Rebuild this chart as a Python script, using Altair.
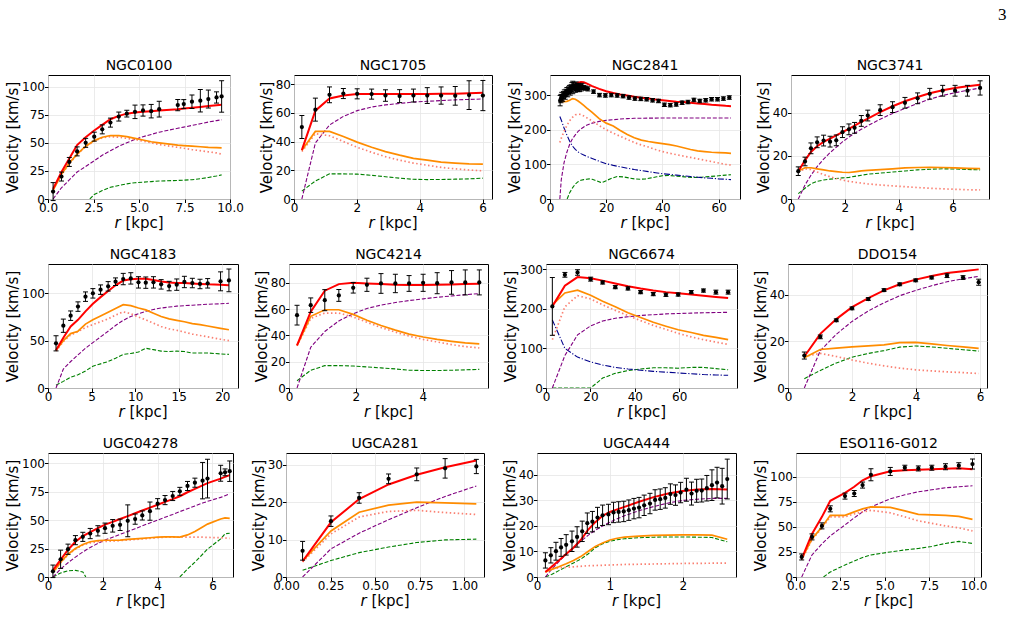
import altair as alt
import pandas as pd

# ---------------- rotation-curve data (r in kpc, velocities in km/s) ----------------
# Observed points: radius, velocity, 1-sigma error.  Model curves: total, baryonic,
# stellar disk, dark matter halo, gas and (where present) bulge.

NGC0100_R = [0.28, 0.74, 1.17, 1.60, 2.07, 2.54, 2.98, 3.43, 3.89, 4.33, 4.78, 5.22, 5.67, 6.11, 7.13, 7.46, 7.91, 8.37, 8.81, 9.26, 9.54]
NGC0100_V = [6.6, 20, 33, 42.4, 50, 55.5, 62, 68, 73.4, 76, 77.6, 78.8, 78.2, 80, 83.6, 84.5, 86.6, 87.5, 89, 90.4, 91.3]
NGC0100_E = [8, 4, 4, 4, 4, 4, 4, 4, 4, 3, 6, 5, 6, 7, 5, 4, 6, 10, 8, 5, 14]
NGC0100_TOT = [9, 24, 36, 48, 55, 61, 66, 71, 74, 76, 77, 77.6, 78.2, 78.8, 80, 80.6, 81.3, 82, 82.7, 83.5, 84]
NGC0100_BAR = [8, 22, 32, 40, 47, 52, 55, 56.5, 56.5, 55.5, 54, 52.5, 51, 50, 48, 47.6, 47, 46.5, 46, 45.7, 45.5]
NGC0100_DISK = [8, 21.5, 31.5, 39.5, 46.5, 51.5, 54.5, 55.5, 55, 54, 53, 51.5, 50, 48.5, 46, 45.2, 44, 43, 42, 41, 40]
NGC0100_DM = [0, 10, 17, 24, 29, 34, 39, 43, 47, 50, 53, 55.5, 57.5, 59.5, 63, 64, 65.5, 67, 68.5, 69.8, 70.5]
NGC0100_GAS_R = [2.30, 2.54, 2.98, 3.43, 3.89, 4.33, 4.78, 5.22, 5.67, 6.11, 7.13, 7.46, 7.91, 8.37, 8.81, 9.26, 9.54]
NGC0100_GAS = [0, 4, 7.5, 10.4, 12, 13.5, 14.5, 15, 15.5, 16, 16.5, 16.8, 17.2, 18, 19.2, 20.5, 21.5]

NGC1705_R = [0.25, 0.68, 1.13, 1.57, 2.01, 2.47, 2.91, 3.36, 3.80, 4.24, 4.68, 5.13, 5.57, 6.01]
NGC1705_V = [50.1, 62.2, 72.5, 73.4, 73.2, 73, 72, 71.6, 72, 72, 72, 71.8, 72.3, 72]
NGC1705_E = [8, 8, 5.5, 3.5, 3.5, 3.5, 4, 4.5, 4.5, 5.5, 6, 6.5, 10, 10.5]
NGC1705_TOT = [34, 61.5, 70, 72, 73, 73, 73, 73, 73, 73.1, 73.2, 73.3, 73.6, 74]
NGC1705_BAR = [34, 47, 47, 43.5, 39.6, 36, 33, 30.5, 28.3, 27, 25.7, 25, 24.5, 24.3]
NGC1705_DISK = [33, 45.5, 44, 40, 36, 32.5, 29.5, 27, 25, 23.5, 22, 21, 20.2, 19.6]
NGC1705_DM = [0, 39, 51.5, 57.5, 61.5, 64, 65.5, 66.5, 67.5, 68, 68.5, 69, 69.3, 69.6]
NGC1705_GAS = [5.5, 12.5, 17.5, 17.5, 17.3, 16.5, 15.5, 14.5, 13.7, 13.5, 13.6, 13.8, 14, 14.5]

NGC2841_R = [3.6, 3.9, 4.2, 4.5, 4.8, 5.1, 5.4, 5.7, 6.0, 6.3, 6.6, 6.9, 7.2, 7.5, 7.8, 8.1, 8.4, 8.7, 9.0, 9.3,
             9.6, 9.9, 10.2, 10.5, 10.8, 11.1, 11.4, 12.0, 12.6, 13.5,
             15.5, 17.6, 19.7, 21.8, 23.9, 26.0, 28.1, 30.2, 32.3, 34.4, 36.5, 38.6, 40.7, 42.8, 44.9, 47.0,
             49.1, 51.2, 53.3, 55.4, 57.5, 59.6, 61.7, 63.8]
NGC2841_V = [284, 290, 296, 292, 300, 305, 298, 307, 312, 305, 314, 318, 310, 320, 324, 322, 326, 322, 318, 328,
             323, 320, 326, 318, 324, 320, 326, 322, 320, 318,
             310, 300, 299, 300, 299, 297, 293, 290, 289, 288, 285, 283, 272, 271, 273, 278,
             280, 286, 283, 285, 288, 288, 290, 293]
NGC2841_E = [15, 12, 12, 10, 10, 10, 10, 10, 10, 10, 10, 10, 10, 10, 12, 18, 10, 10, 10, 10,
             10, 10, 8, 8, 8, 8, 8, 6, 6, 6,
             5, 5, 5, 5, 5, 5, 5, 5, 5, 5, 5, 5, 5, 5, 5, 5,
             5, 5, 5, 5, 5, 5, 5, 5]
NGC2841_RM = [3.5, 4, 5, 6, 7, 8, 9, 10, 11, 12, 13, 15, 17.5, 20, 22.5, 25, 27.5, 30, 32.5, 35, 37.5, 40,
              42.5, 45, 47.5, 50, 52.5, 55, 57.5, 60, 62.5, 64.4]
NGC2841_TOT = [286, 290, 300, 310, 318, 326, 332, 336, 338, 337, 334, 326, 318, 311, 306, 302, 299, 295, 292, 290,
               287, 285, 283, 281, 280, 278, 276, 274, 272, 271, 269, 268]
NGC2841_BAR = [285, 282, 281, 282, 285, 290, 288, 283, 277, 270, 263, 250, 232, 219, 211, 198, 186, 177, 170, 166,
               163, 160, 157, 153, 148, 143, 139, 137, 135, 134, 133, 132]
NGC2841_DISK = [163, 175, 195, 212, 226, 236, 243, 245, 244, 240, 235, 225, 212, 200, 190, 181, 172, 163, 156, 150,
                143, 137, 132, 128, 124, 120, 116, 112, 108, 104, 100, 98]
NGC2841_DM = [0, 55, 105, 135, 158, 174, 185, 195, 202, 208, 213, 219, 224, 227, 229, 231, 232, 233, 233, 233.5,
              233.5, 234, 234, 234, 234, 234, 234, 234, 234, 234, 234, 234]
NGC2841_BUL = [238, 228, 205, 185, 167, 153, 143, 136, 131, 127, 123, 117, 109, 102, 97, 93, 89, 85, 82, 79,
               76, 73, 71, 69, 67, 65, 63, 61, 60, 58, 57, 56]
NGC2841_GAS_R = [6.1, 7, 8, 9, 10, 11, 12, 13, 14, 15, 16, 17, 18, 19, 20, 22, 24, 26, 28, 30, 32, 34, 36, 38, 40,
                 42, 45, 48, 51, 54, 57, 60, 62.5, 64.4]
NGC2841_GAS = [0, 18, 32, 43, 50, 54, 56, 57, 58, 57, 54, 51, 48, 49, 53, 60, 65, 64, 61, 58, 57, 58, 61, 64, 67,
               68, 66, 64, 62, 63, 65, 67, 69, 70]

NGC3741_R = [0.27, 0.52, 0.74, 0.97, 1.21, 1.45, 1.68, 1.91, 2.15, 2.36, 2.61, 2.85, 3.31, 3.77, 4.23, 4.70, 5.15, 5.63, 6.09, 6.55, 7.02]
NGC3741_V = [12.9, 17.4, 23.5, 26.3, 27.1, 26.6, 27.2, 31, 32.3, 33, 36.2, 38.7, 41.2, 42.6, 44.6, 46.7, 48.8, 50.2, 50.2, 50.2, 51.5]
NGC3741_E = [2, 2, 2.5, 2.5, 2.5, 2.5, 2.5, 2.5, 2.5, 2.5, 2.5, 2.5, 2.5, 2.5, 2.5, 2.5, 2.5, 2.5, 2.5, 2.5, 3.3]
NGC3741_TOT = [12.9, 17.9, 21.8, 24.5, 26.5, 28, 29.5, 31, 32.5, 34, 35.8, 37.3, 40.3, 43, 45.3, 47.3, 49, 50.4, 51.5, 52.3, 53]
NGC3741_BAR = [13, 14.5, 14.5, 14, 13.5, 13, 12.7, 12.4, 12.3, 12.6, 13, 13.3, 13.6, 14, 14.4, 14.6, 14.7, 14.6, 14.4, 14.2, 14.1]
NGC3741_DISK = [12.5, 14, 13.7, 12.5, 11.3, 10.3, 9.5, 8.8, 8.2, 7.8, 7.4, 7, 6.5, 6.1, 5.7, 5.3, 5, 4.7, 4.5, 4.3, 4.2]
NGC3741_DM = [0, 6.5, 11, 15, 18.5, 21.5, 24, 26.5, 28.7, 30.5, 32.3, 34, 37, 39.7, 42, 44.3, 46.3, 48, 49.3, 50.4, 51.5]
NGC3741_GAS = [2.5, 5, 7, 8.2, 8.8, 9.2, 9.5, 9.8, 10, 10.5, 11, 11.5, 12, 12.5, 13, 13.5, 13.8, 14, 13.9, 13.7, 13.5]

NGC4183_R = [0.92, 1.76, 2.6, 3.44, 4.3, 5.15, 6.03, 6.9, 7.75, 8.63, 9.5, 10.38, 11.22, 12.1, 12.98, 13.9, 14.77, 15.65, 16.56, 17.44, 18.32, 19.8, 20.76]
NGC4183_V = [47.2, 65.8, 76.4, 86, 96.5, 100, 103.9, 107.4, 112.3, 115.1, 115.8, 111.6, 111.3, 111.6, 109.5, 107.7, 109.2, 112, 110.9, 109.9, 110.6, 112.7, 113.7]
NGC4183_E = [8, 7, 5, 5, 5, 5, 5, 5, 4, 6, 6, 6, 6, 6, 5, 5, 6, 6, 5, 5, 5, 10, 12]
NGC4183_TOT = [40, 53, 65, 72, 81, 89, 96, 102.5, 108.5, 113.5, 115, 115.5, 115.3, 114, 112.5, 111.5, 111, 111, 110.5, 110, 109.5, 109, 108.5]
NGC4183_BAR = [40, 50, 57.5, 60, 67.5, 72, 76, 80, 84, 88, 87, 84.5, 82.5, 79, 75.5, 73, 71.5, 70, 68, 67, 65.5, 63, 61.5]
NGC4183_DISK = [39, 49, 56, 59.5, 64, 67, 70, 73, 77, 80.5, 78.5, 75, 72, 68.5, 65, 62.5, 61, 59, 57, 55.5, 54, 51.5, 50]
NGC4183_DM = [0, 20, 28, 35, 42, 48, 54, 60, 66, 71.5, 75.5, 78.5, 81, 83, 84.5, 85.5, 86.5, 87, 87.5, 88, 88.5, 89, 89.5]
NGC4183_GAS = [3, 7, 11.5, 14, 18, 23, 25.5, 28, 31.5, 35.5, 36.5, 38, 42, 40.5, 39, 38.5, 39, 38.5, 37, 37, 37, 36, 35.5]

NGC4214_R = [0.24, 0.65, 1.07, 1.49, 1.92, 2.33, 2.75, 3.18, 3.59, 4.01, 4.43, 4.86, 5.27, 5.69]
NGC4214_V = [55.4, 63, 66.8, 70.4, 76.2, 78.5, 79.5, 79.5, 79.5, 80, 79.7, 80.3, 80.3, 80.3]
NGC4214_E = [7.5, 5.5, 8, 4.5, 4, 5, 7.5, 7, 6, 6.5, 8, 9, 9.5, 9.5]
NGC4214_TOT = [32.5, 58, 74, 79, 80, 79.5, 79, 78.5, 78.3, 78.3, 78.5, 78.8, 79, 79.3]
NGC4214_BAR = [32.5, 54.5, 59.5, 59.5, 56, 51.5, 47.5, 44, 41, 38.8, 37, 35.5, 34.3, 33.5]
NGC4214_DISK = [32, 53, 57, 57, 54, 50, 46, 42.5, 39.5, 37, 35, 33, 31.5, 30.5]
NGC4214_DM = [0, 31, 43, 51, 56.5, 60.5, 63, 65, 66.5, 67.8, 69, 70, 71, 71.8]
NGC4214_GAS = [5.5, 13.5, 17, 17, 16.7, 16, 15.3, 14.5, 13.5, 13.3, 13.3, 13.5, 13.8, 14.2]

NGC6674_R = [2.85, 8.5, 14.2, 20.1, 25.5, 31.2, 36.9, 42.6, 48.3, 54.0, 59.5, 65.4, 70.9, 76.5, 82.0]
NGC6674_V = [206, 285.7, 291.6, 274.8, 266.4, 254.6, 251.3, 242, 237, 235.3, 236, 242, 246, 242, 242]
NGC6674_E = [73, 6, 7, 5, 4, 4, 4, 4, 4, 4, 4, 4, 4, 5, 5]
NGC6674_TOT = [206, 258, 280, 277, 271, 264, 257, 251, 246, 242, 239, 236, 233, 230, 227]
NGC6674_BAR = [210, 240, 247, 234, 219, 205, 190, 178, 166, 156, 147, 140, 133, 128, 122]
NGC6674_DISK = [122, 205, 233, 225, 210, 196, 183, 170, 158, 148, 138, 129, 122, 116, 110]
NGC6674_DM = [0, 82, 134, 157, 169, 176, 180, 183, 185, 187, 188, 189, 190, 190.5, 191]
NGC6674_GAS = [0, 0, 0, 0, 25, 37, 44, 48, 51, 51, 50, 52, 52, 49, 46]
NGC6674_BUL = [172, 100, 78, 66, 58, 52, 48, 45, 42, 40, 38, 36, 34, 33, 32]

DDO154_R = [0.51, 1.01, 1.51, 2.0, 2.51, 3.0, 3.49, 3.99, 4.49, 4.97, 5.47, 5.96]
DDO154_V = [13.9, 21.9, 29, 34.1, 38.1, 41.9, 44.4, 46.1, 47.3, 48.1, 47.3, 45.3]
DDO154_E = [1.5, 0.8, 0.6, 0.6, 0.6, 0.6, 0.6, 0.6, 0.6, 0.8, 0.8, 1.3]
DDO154_TOT = [13.5, 23.2, 29.5, 34.6, 38.5, 41.8, 44.4, 46.4, 48, 49.2, 50, 50.8]
DDO154_BAR = [13, 16.5, 17.1, 17.6, 18, 18.5, 19.4, 19.5, 18.9, 18.2, 17.6, 17]
DDO154_DISK = [13.5, 14.8, 13.5, 12, 10.6, 9.5, 8.5, 7.8, 7.3, 6.9, 6.6, 6.2]
DDO154_DM = [0, 16, 23, 28.5, 33, 36.5, 39.5, 41.8, 43.8, 45.5, 46.8, 47.8]
DDO154_GAS = [4, 7.5, 10.7, 13.2, 14.8, 16, 17.5, 18, 17.6, 17, 16.4, 15.8]

UGC04278_R = [0.18, 0.46, 0.73, 1.0, 1.27, 1.54, 1.82, 2.08, 2.36, 2.63, 2.91, 3.18, 3.44, 3.72, 4.0, 4.27, 4.55, 4.81, 5.09, 5.36, 5.64, 5.82, 6.30, 6.46, 6.63]
UGC04278_V = [5, 15.6, 24.4, 32.4, 35.3, 38.2, 40.6, 42.9, 45, 45.9, 49.4, 50.9, 54.1, 57.9, 64.4, 67.6, 71.2, 75.3, 80, 82.9, 84.7, 86.5, 91.2, 92, 93]
UGC04278_E = [5.5, 8, 4.5, 4, 4, 4.5, 4.5, 4.5, 5.5, 5, 14, 4.5, 4, 8, 4.5, 4, 4, 3.5, 4, 4, 16, 17, 7, 3, 9]
UGC04278_TOT = [6, 15, 24, 31, 36, 39.5, 43, 46, 48.5, 51, 53.5, 56, 58.5, 61, 63.5, 66, 68.5, 71, 74.5, 77.5, 80.5, 82.5, 86.5, 88, 89.5]
UGC04278_BAR = [4, 13, 20, 25, 28.5, 31, 32, 32.3, 32.3, 32.5, 33, 33.5, 34, 34.5, 35, 35.3, 35.3, 35, 37, 40, 44, 46.5, 51, 52, 51.5]
UGC04278_DISK = [4, 12.5, 19.5, 24.5, 28, 30, 31, 31.3, 31.5, 32, 32.5, 33, 33.5, 34, 34.5, 35, 35, 35, 35, 35, 35, 34.8, 34.5, 34.3, 34]
UGC04278_DM = [0, 7, 12.5, 17.5, 22, 26, 29.5, 32.5, 35, 37.5, 40, 42.5, 45, 47.5, 50, 52.5, 55, 57.5, 60, 62.5, 65, 66.5, 70, 71.5, 73]
UGC04278_GAS_R = [0.18, 0.46, 0.73, 1.0, 1.27, 1.38, None, 4.81, 5.09, 5.36, 5.64, 5.82, 6.30, 6.46, 6.63]
UGC04278_GAS = [0, 3.5, 5.5, 5.8, 4.5, 0, None, 0, 7, 13, 20, 24.5, 33.5, 38, 38.5]

UGCA281_R = [0.093, 0.252, 0.41, 0.575, 0.733, 0.892, 1.067]
UGCA281_V = [7, 14.9, 21.1, 26.2, 27.4, 29, 29.5]
UGCA281_E = [2.5, 1.4, 1.4, 1.3, 1.7, 2.6, 1.9]
UGCA281_TOT = [4.2, 14.6, 20.8, 24.7, 27.3, 29.3, 31.1]
UGCA281_BAR = [4.3, 12.3, 17.3, 19.2, 20, 19.8, 19.5]
UGCA281_DISK = [4, 11.5, 16, 17.5, 17.8, 17.2, 16.7]
UGCA281_DM = [0, 7.5, 11.7, 15.3, 18.5, 21.5, 24.3]
UGCA281_GAS = [1.8, 4.4, 6.5, 8, 9.2, 9.9, 10.1]

UGCA444_R = [0.115, 0.19, 0.26, 0.33, 0.40, 0.48, 0.55, 0.62, 0.69, 0.76, 0.83, 0.90, 0.98, 1.05, 1.12, 1.19, 1.26, 1.33,
             1.40, 1.47, 1.55, 1.62, 1.69, 1.76, 1.83, 1.90, 1.97, 2.05, 2.12, 2.19, 2.26, 2.33, 2.40, 2.47, 2.54, 2.61]
UGCA444_V = [6.5, 8.5, 10.1, 11.6, 12.6, 14, 15.7, 17.9, 21.1, 21.7, 23.3, 24.2, 24.5, 25.3, 25.5, 25.7, 26.2, 26.8,
             27.2, 28.1, 28.8, 30.2, 30.5, 31, 32.5, 32.1, 33.1, 34.2, 32.7, 33.8, 33.9, 34.8, 36, 37, 35.6, 38.4]
UGCA444_E = [3, 3, 3.5, 3.5, 4, 4, 4, 4, 4, 4, 4, 4, 4, 4, 4, 4, 4, 4,
             4, 4, 4, 4, 4, 4, 4, 4, 4, 4.5, 4.5, 4.5, 4.5, 5, 6, 6, 7, 7.8]
UGCA444_RM = [0.115, 0.2, 0.3, 0.4, 0.5, 0.6, 0.7, 0.8, 0.9, 1.0, 1.1, 1.2, 1.4, 1.6, 1.8, 2.0, 2.2, 2.4, 2.61]
UGCA444_TOT = [2, 4, 6.5, 9, 11.5, 14.5, 18.5, 21.5, 24, 25.5, 26.5, 27.5, 29.5, 31.3, 32.7, 33.7, 34.3, 34.5, 34.3]
UGCA444_BAR = [2, 3, 4, 5.2, 6.5, 8, 10, 12, 13.3, 14.5, 15.2, 15.6, 16, 16.3, 16.4, 16.5, 16.5, 16.4, 14.8]
UGCA444_DISK = [2, 3.2, 3.6, 3.8, 4, 4.2, 4.4, 4.5, 4.6, 4.7, 4.8, 4.9, 5, 5.1, 5.2, 5.3, 5.35, 5.4, 5.4]
UGCA444_DM = [0, 3, 6, 9, 11.5, 14, 16.3, 18.3, 20, 21.5, 22.8, 24, 26, 27.6, 29, 30, 30.5, 30.8, 30.8]
UGCA444_GAS = [0, 1, 2.5, 4, 5.5, 7, 9, 11.5, 13, 14, 14.6, 15, 15.4, 15.6, 15.7, 15.7, 15.6, 15.5, 13.8]

ESO116_R = [0.32, 0.9, 1.46, 1.93, 2.76, 3.28, 3.75, 4.22, 5.31, 6.13, 6.89, 7.65, 8.42, 9.17, 9.94]
ESO116_V = [20, 40, 51, 68, 80.7, 83.3, 91.7, 102, 105.3, 109, 108.3, 109, 110, 111, 112.7]
ESO116_E = [3, 3, 3, 3, 3, 3, 3, 6, 4, 2.5, 2.5, 2.5, 3, 3, 5]
ESO116_TOT = [18, 43, 60, 76, 84, 90, 96.5, 100.5, 105.5, 106.5, 107, 107.5, 108, 108.5, 107.5]
ESO116_BAR = [18, 38, 50, 61.5, 61.5, 65, 68, 70, 69.5, 66, 62.5, 62, 61.5, 60.5, 57.5]
ESO116_DISK = [17, 37, 49, 60, 60, 63, 65, 66.5, 64, 60, 56, 53.5, 51, 49, 46]
ESO116_DM = [0, 22, 33, 41, 52, 59, 65, 70, 78, 82, 85, 87, 89, 90, 91]
ESO116_GAS_R = [1.55, 1.93, 2.76, 3.28, 3.75, 4.22, 5.31, 6.13, 6.89, 7.65, 8.42, 9.17, 9.94]
ESO116_GAS = [0, 5, 12, 16, 19.5, 22, 25, 27, 28.5, 30.5, 33.5, 35.5, 33.5]

# ---------------- panel definitions ----------------
GALAXIES = [
    dict(name="NGC0100", r=NGC0100_R, v=NGC0100_V, e=NGC0100_E, rm=NGC0100_R,
         tot=NGC0100_TOT, bar=NGC0100_BAR, disk=NGC0100_DISK, dm=NGC0100_DM,
         gas=NGC0100_GAS, gas_r=NGC0100_GAS_R,
         xmax=10.0, ymax=110.4, xticks=[0, 2.5, 5, 7.5, 10], xfmt=".1f", yticks=[0, 25, 50, 75, 100]),
    dict(name="NGC1705", r=NGC1705_R, v=NGC1705_V, e=NGC1705_E, rm=NGC1705_R,
         tot=NGC1705_TOT, bar=NGC1705_BAR, disk=NGC1705_DISK, dm=NGC1705_DM, gas=NGC1705_GAS,
         xmax=6.3, ymax=86.3, xticks=[0, 2, 4, 6], xfmt="d", yticks=[0, 20, 40, 60, 80]),
    dict(name="NGC2841", r=NGC2841_R, v=NGC2841_V, e=NGC2841_E, rm=NGC2841_RM,
         tot=NGC2841_TOT, bar=NGC2841_BAR, disk=NGC2841_DISK, dm=NGC2841_DM,
         gas=NGC2841_GAS, gas_r=NGC2841_GAS_R, bul=NGC2841_BUL,
         xmax=67.6, ymax=358, xticks=[0, 20, 40, 60], xfmt="d", yticks=[0, 100, 200, 300]),
    dict(name="NGC3741", r=NGC3741_R, v=NGC3741_V, e=NGC3741_E, rm=NGC3741_R,
         tot=NGC3741_TOT, bar=NGC3741_BAR, disk=NGC3741_DISK, dm=NGC3741_DM, gas=NGC3741_GAS,
         xmax=7.35, ymax=57.5, xticks=[0, 2, 4, 6], xfmt="d", yticks=[0, 20, 40]),
    dict(name="NGC4183", r=NGC4183_R, v=NGC4183_V, e=NGC4183_E, rm=NGC4183_R,
         tot=NGC4183_TOT, bar=NGC4183_BAR, disk=NGC4183_DISK, dm=NGC4183_DM, gas=NGC4183_GAS,
         xmax=21.8, ymax=131, xticks=[0, 5, 10, 15, 20], xfmt="d", yticks=[0, 50, 100]),
    dict(name="NGC4214", r=NGC4214_R, v=NGC4214_V, e=NGC4214_E, rm=NGC4214_R,
         tot=NGC4214_TOT, bar=NGC4214_BAR, disk=NGC4214_DISK, dm=NGC4214_DM, gas=NGC4214_GAS,
         xmax=5.95, ymax=94.3, xticks=[0, 2, 4], xfmt="d", yticks=[0, 20, 40, 60, 80]),
    dict(name="NGC6674", r=NGC6674_R, v=NGC6674_V, e=NGC6674_E, rm=NGC6674_R,
         tot=NGC6674_TOT, bar=NGC6674_BAR, disk=NGC6674_DISK, dm=NGC6674_DM, gas=NGC6674_GAS,
         bul=NGC6674_BUL,
         xmax=86.0, ymax=313, xticks=[0, 20, 40, 60], xfmt="d", yticks=[0, 100, 200, 300]),
    dict(name="DDO154", r=DDO154_R, v=DDO154_V, e=DDO154_E, rm=DDO154_R,
         tot=DDO154_TOT, bar=DDO154_BAR, disk=DDO154_DISK, dm=DDO154_DM, gas=DDO154_GAS,
         xmax=6.22, ymax=53.1, xticks=[0, 2, 4, 6], xfmt="d", yticks=[0, 20, 40]),
    dict(name="UGC04278", r=UGC04278_R, v=UGC04278_V, e=UGC04278_E, rm=UGC04278_R,
         tot=UGC04278_TOT, bar=UGC04278_BAR, disk=UGC04278_DISK, dm=UGC04278_DM,
         gas=UGC04278_GAS, gas_r=UGC04278_GAS_R,
         xmax=6.75, ymax=109, xticks=[0, 2, 4, 6], xfmt="d", yticks=[0, 25, 50, 75, 100]),
    dict(name="UGCA281", r=UGCA281_R, v=UGCA281_V, e=UGCA281_E, rm=UGCA281_R,
         tot=UGCA281_TOT, bar=UGCA281_BAR, disk=UGCA281_DISK, dm=UGCA281_DM, gas=UGCA281_GAS,
         xmax=1.11, ymax=33.1, xticks=[0, 0.25, 0.5, 0.75, 1.0], xfmt=".2f", yticks=[0, 10, 20, 30]),
    dict(name="UGCA444", r=UGCA444_R, v=UGCA444_V, e=UGCA444_E, rm=UGCA444_RM,
         tot=UGCA444_TOT, bar=UGCA444_BAR, disk=UGCA444_DISK, dm=UGCA444_DM, gas=UGCA444_GAS,
         xmax=2.73, ymax=48.6, xticks=[0, 1, 2], xfmt="d", yticks=[0, 10, 20, 30, 40]),
    dict(name="ESO116-G012", r=ESO116_R, v=ESO116_V, e=ESO116_E, rm=ESO116_R,
         tot=ESO116_TOT, bar=ESO116_BAR, disk=ESO116_DISK, dm=ESO116_DM,
         gas=ESO116_GAS, gas_r=ESO116_GAS_R,
         xmax=10.42, ymax=123.7, xticks=[0, 2.5, 5, 7.5, 10], xfmt=".1f", yticks=[0, 25, 50, 75, 100]),
]

# plot-area widths of the panels and gaps between panels, row by row
ROW_WIDTHS = [[182, 198, 190, 198], [190, 199, 191, 199], [185, 198, 199, 185]]
ROW_SPACING = [14, 14, 16]
PANEL_H = 124

FONT = "DejaVu Sans"

STYLES = {
    "gas": dict(color="#008000", strokeWidth=1.1, strokeDash=[4, 1.8]),
    "bul": dict(color="#00008b", strokeWidth=1.1, strokeDash=[6, 1.8, 1.2, 1.8]),
    "dm": dict(color="#800080", strokeWidth=1.1, strokeDash=[4, 1.8]),
    "disk": dict(color="#fa8072", strokeWidth=1.7, strokeDash=[1.5, 2.5]),
    "bar": dict(color="#ff8c00", strokeWidth=1.7),
    "tot": dict(color="#ff0000", strokeWidth=2.0),
}


def curve_frame(rs, vs):
    """Turn a model curve into rows; a None entry starts a new segment."""
    rows, seg = [], 0
    for r, v in zip(rs, vs):
        if r is None or v is None:
            seg += 1
            continue
        rows.append({"r": r, "v": v, "seg": seg})
    return pd.DataFrame(rows)


def label(text, x, y, size, style="normal", align="left"):
    """A free-standing piece of text placed in pixel coordinates of the panel."""
    return alt.Chart(pd.DataFrame({"t": [text]})).mark_text(
        font=FONT, fontSize=size, fontStyle=style, fontWeight="normal",
        align=align, baseline="alphabetic", color="black",
    ).encode(x=alt.value(x), y=alt.value(y), text="t:N")


def panel(g, width):
    xs = alt.Scale(domain=[0, g["xmax"]], nice=False, zero=False)
    ys = alt.Scale(domain=[0, g["ymax"]], nice=False, zero=False)
    xax = alt.Axis(values=g["xticks"], format=g["xfmt"], title=None)
    yax = alt.Axis(values=g["yticks"], format="d", title="Velocity [km/s]")
    X = alt.X("r:Q", scale=xs, axis=xax)
    Y = alt.Y("v:Q", scale=ys, axis=yax)

    layers = []
    for key in ["gas", "bul", "dm", "disk", "bar", "tot"]:
        if key not in g:
            continue
        df = curve_frame(g.get(key + "_r", g["rm"]), g[key])
        layers.append(
            alt.Chart(df).mark_line(clip=True, **STYLES[key]).encode(x=X, y=Y, detail="seg:N")
        )

    obs = pd.DataFrame({
        "r": g["r"],
        "v": g["v"],
        "lo": [a - b for a, b in zip(g["v"], g["e"])],
        "hi": [a + b for a, b in zip(g["v"], g["e"])],
    })
    base = alt.Chart(obs)
    layers.append(base.mark_rule(color="black", strokeWidth=1).encode(
        x=X, y=alt.Y("lo:Q", scale=ys, axis=yax), y2="hi:Q"))
    layers.append(base.mark_tick(orient="horizontal", color="black", size=5, thickness=1, opacity=1).encode(
        x=X, y=alt.Y("lo:Q", scale=ys, axis=yax)))
    layers.append(base.mark_tick(orient="horizontal", color="black", size=5, thickness=1, opacity=1).encode(
        x=X, y=alt.Y("hi:Q", scale=ys, axis=yax)))
    layers.append(base.mark_circle(color="black", size=18, opacity=1).encode(x=X, y=Y))

    cx = width / 2.0
    # panel heading
    layers.append(label(g["name"], cx, -4.7, 14, align="center"))
    # x-axis title: italic r followed by the unit
    layers.append(label("r", cx - 24.6, PANEL_H + 29, 15, style="italic"))
    layers.append(label("[kpc]", cx - 13.6, PANEL_H + 29, 15))

    return alt.layer(*layers).properties(width=width, height=PANEL_H)


rows = []
for i in range(3):
    panels = [panel(GALAXIES[4 * i + j], ROW_WIDTHS[i][j]) for j in range(4)]
    rows.append(alt.hconcat(*panels, spacing=ROW_SPACING[i]))

chart = alt.vconcat(
    *rows,
    spacing=15,
    title=alt.TitleParams("3", anchor="end", font="Liberation Serif", fontSize=17,
                          fontWeight="normal", color="black", offset=33, dx=17, dy=-2),
).configure(
    font=FONT,
).configure_view(
    stroke="black", strokeWidth=1,
).configure_axis(
    domain=False,
    ticks=True,
    tickColor="black",
    tickSize=3.5,
    tickWidth=1,
    labelFont=FONT,
    labelFontSize=12,
    labelColor="black",
    labelPadding=0,
    labelFlush=False,
    labelOverlap=False,
    labelBound=False,
    titleFont=FONT,
    titleFontSize=15,
    titleFontWeight="normal",
    titleColor="black",
    titlePadding=1,
    grid=True,
    gridColor="#e6e6e6",
    gridWidth=0.8,
)

chart.save("out.html", embed_options={"renderer": "svg", "actions": False})
